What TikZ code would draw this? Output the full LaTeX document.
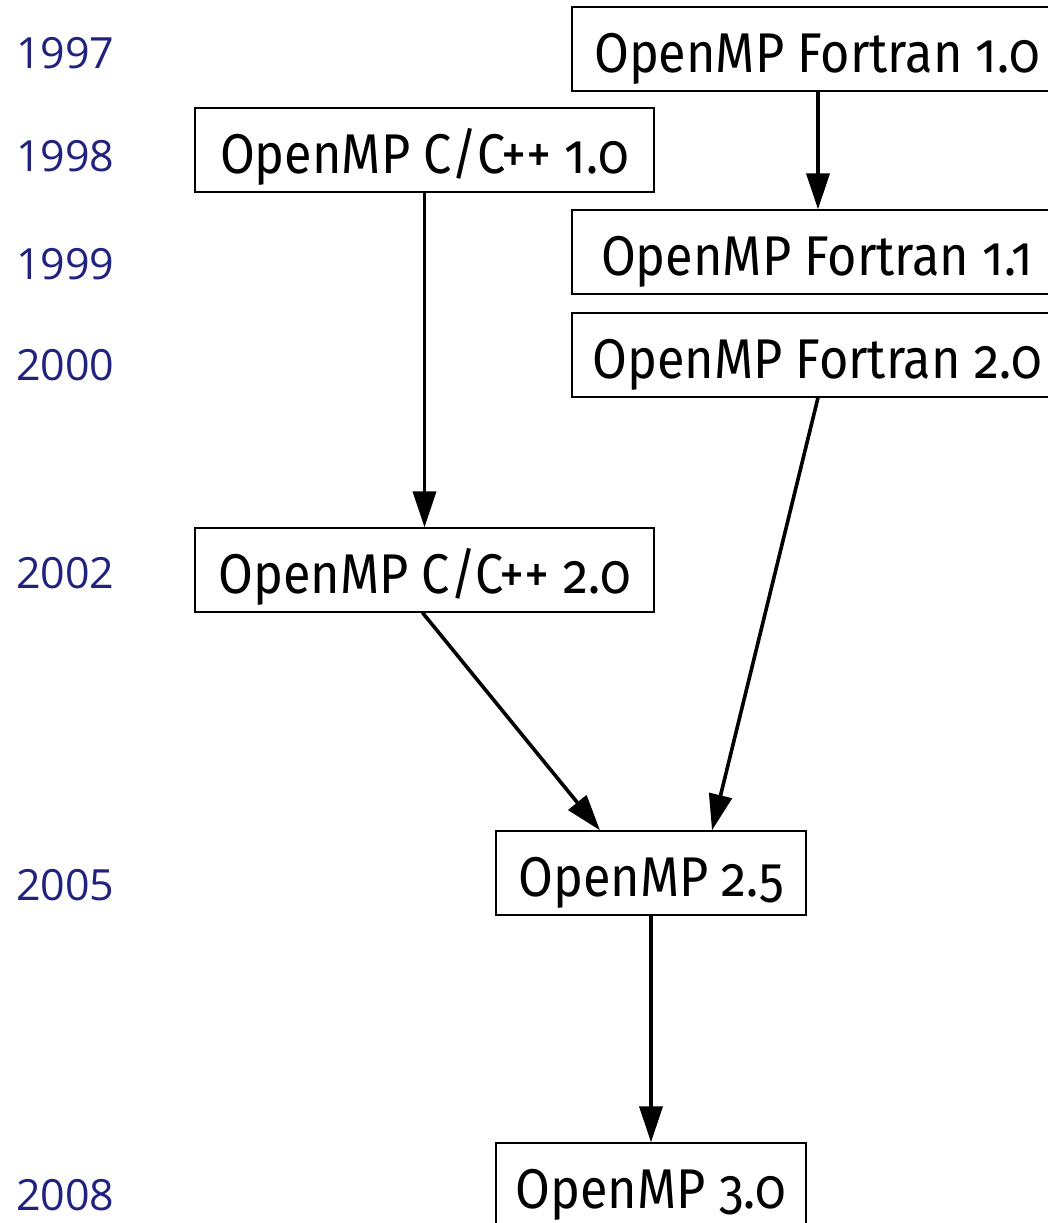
\documentclass[tikz,border=0pt]{standalone}
\usepackage{fontspec}
\setmainfont{Fira Sans}[Numbers=OldStyle,FakeStretch=0.9]
\newfontfamily\yearfont{Open Sans}[Numbers=Lining]
\usetikzlibrary{arrows.meta}
\definecolor{yearblue}{RGB}{33,33,128}
\begin{document}
\begin{tikzpicture}[x=1pt,y=-1pt,
  box/.style={draw=black,line width=1.3pt,fill=white,minimum height=84pt,inner sep=0pt,text height=46pt,text depth=0pt,font=\fontsize{56}{60}\selectfont},
  fbox/.style={box,minimum width=490pt},
  cbox/.style={box,minimum width=459pt},
  vbox/.style={box,minimum width=310pt},
  year/.style={anchor=base west,inner sep=0pt,text=yearblue,font=\yearfont\fontsize{43}{47}\selectfont},
  conn/.style={line width=3.6pt,-{Triangle[length=36pt,width=23pt]}}]
\useasboundingbox (0,0) rectangle (1048,1223);
\clip (0,0) rectangle (1048,1223);
\node[fbox] (f10) at (817,49) {OpenMP Fortran 1.0};
\node[cbox] (c10) at (424.5,150) {OpenMP C/C++ 1.0};
\node[fbox] (f11) at (817,252) {OpenMP Fortran 1.1};
\node[fbox] (f20) at (817,355) {OpenMP Fortran 2.0};
\node[cbox] (c20) at (424.5,570) {OpenMP C/C++ 2.0};
\node[vbox] (v25) at (651,873) {OpenMP 2.5};
\node[vbox] (v30) at (651,1185) {OpenMP 3.0};
\node[year] (y1997) at (16,69) {1997};
\node[year] (y1998) at (16,171) {1998};
\node[year] (y1999) at (16,279) {1999};
\node[year] (y2000) at (16,380) {2000};
\node[year] (y2002) at (16,588) {2002};
\node[year] (y2005) at (16,900) {2005};
\node[year] (y2008) at (16,1210) {2008};
\draw[conn] ([xshift=1pt]f10.south) -- ([xshift=1pt]f11.north);
\draw[conn] (c10.south) -- (c20.north);
\draw[conn] ([xshift=1pt]f20.south) -- ([xshift=61pt]v25.north);
\draw[conn] ([xshift=-2pt]c20.south) -- ([xshift=-51pt]v25.north);
\draw[conn] (v25.south) -- (v30.north);
\end{tikzpicture}
\end{document}
